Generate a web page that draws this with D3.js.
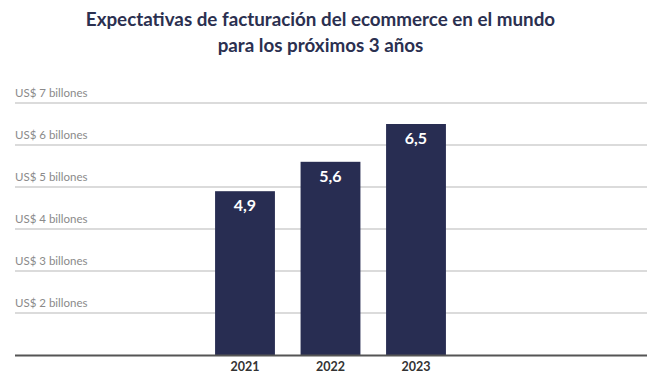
<!DOCTYPE html>
<html>
<head>
<meta charset="utf-8">
<script src="https://cdn.jsdelivr.net/npm/d3@7"></script>
<style>
  body { margin: 0; background: #fff; }
  svg { display: block; }
</style>
</head>
<body>
<svg id="chart" width="660" height="379"></svg>
<script>
const titleLines = ["Expectativas de facturación del ecommerce en el mundo", "para los próximos 3 años"];
const years = ["2021", "2022", "2023"];
const values = [4.9, 5.6, 6.5];
const valueLabels = ["4,9", "5,6", "6,5"];
const tickValues = [2, 3, 4, 5, 6, 7];
const tickLabels = ["US$ 2 billones", "US$ 3 billones", "US$ 4 billones", "US$ 5 billones", "US$ 6 billones", "US$ 7 billones"];

const svg = d3.select("#chart");
const font = "Lato, 'Noto Sans', sans-serif";

const y = d3.scaleLinear().domain([1, 7]).range([355, 103]);
const x = d3.scaleBand().domain(years).range([202.25, 458.75]).paddingInner(0.3).paddingOuter(0.15);

// title
svg.append("g").selectAll("text").data(titleLines).join("text")
  .attr("x", 320.5).attr("y", (d, i) => 26 + i * 26)
  .attr("text-anchor", "middle")
  .attr("font-family", font).attr("font-weight", 700).attr("font-size", 18.8)
  .attr("fill", "#2b3050")
  .text(d => d);

// gridlines with labels
const grid = svg.append("g");
grid.selectAll("line").data(tickValues).join("line")
  .attr("x1", 15).attr("x2", 647)
  .attr("y1", d => y(d)).attr("y2", d => y(d))
  .attr("stroke", "#cfcfcf").attr("stroke-width", 1.5);
grid.selectAll("text").data(tickValues).join("text")
  .attr("x", 15).attr("y", d => y(d) - 6)
  .attr("font-family", font).attr("font-size", 11.5)
  .attr("fill", "#8a8a8a")
  .text((d, i) => tickLabels[i]);

// bars
svg.append("g").selectAll("rect").data(values).join("rect")
  .attr("x", (d, i) => x(years[i]))
  .attr("width", x.bandwidth())
  .attr("y", d => y(d))
  .attr("height", d => y(1) - y(d))
  .attr("fill", "#282d52");

// value labels
svg.append("g").selectAll("text").data(values).join("text")
  .attr("x", (d, i) => x(years[i]) + x.bandwidth() / 2)
  .attr("y", d => y(d) + 20)
  .attr("text-anchor", "middle")
  .attr("font-family", font).attr("font-weight", 700).attr("font-size", 16)
  .attr("fill", "#ffffff")
  .text((d, i) => valueLabels[i]);

// baseline
svg.append("line")
  .attr("x1", 15).attr("x2", 647)
  .attr("y1", y(1) + 0.5).attr("y2", y(1) + 0.5)
  .attr("stroke", "#555").attr("stroke-width", 2);

// x axis labels
const xAxis = d3.axisBottom(x).tickSize(0).tickPadding(0);
const gx = svg.append("g").attr("transform", "translate(0,360)").call(xAxis);
gx.select(".domain").remove();
gx.selectAll("text")
  .attr("dy", "0.9em")
  .attr("font-family", font).attr("font-weight", 700).attr("font-size", 12.5)
  .attr("fill", "#333");
</script>
</body>
</html>
